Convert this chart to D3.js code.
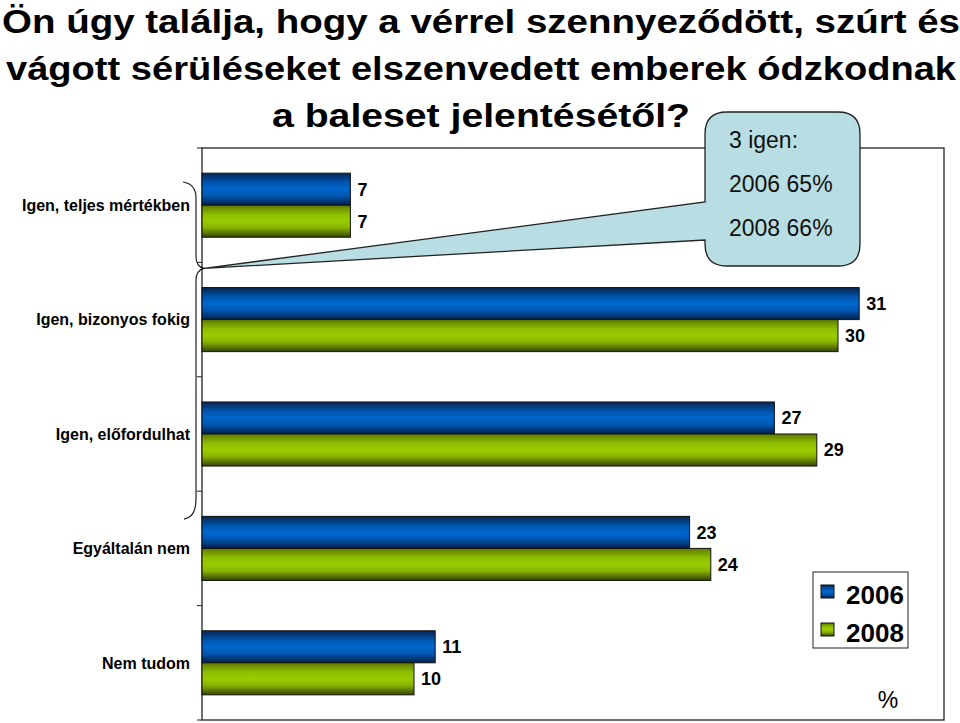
<!DOCTYPE html>
<html><head><meta charset="utf-8">
<script src="https://cdn.jsdelivr.net/npm/d3@7"></script>
<style>body{margin:0;background:#fff}svg{display:block;font-family:"Liberation Sans",Arial,sans-serif}</style>
</head><body><svg id="c" width="960" height="723"></svg>
<script>
const titleLines = ["Ön úgy találja, hogy a vérrel szennyeződött, szúrt és","vágott sérüléseket elszenvedett emberek ódzkodnak","a baleset jelentésétől?"];
const categories = ["Igen, teljes mértékben","Igen, bizonyos fokig","Igen, előfordulhat","Egyáltalán nem","Nem tudom"];
const series = ["2006","2008"];
const values2006 = [7,31,27,23,11];
const values2008 = [7,30,29,24,10];
const calloutLines = ["3 igen:","2006 65%","2008 66%"];
const unitLabel = "%";

(function(){
const svg = d3.select("#c");
const defs = svg.append("defs");
function grad(id, stops){
  const g = defs.append("linearGradient").attr("id",id).attr("x1",0).attr("y1",0).attr("x2",0).attr("y2",1);
  stops.forEach(s=>g.append("stop").attr("offset",s[0]).attr("stop-color",s[1]));
}
grad("gBlue",[[0,"#0a2550"],[0.3,"#0056b0"],[0.5,"#0066cc"],[0.7,"#0058b4"],[1,"#02204a"]]);
grad("gGreen",[[0,"#5f7a00"],[0.3,"#8fbf00"],[0.5,"#99cc00"],[0.7,"#88b400"],[1,"#354400"]]);
const fills = {"2006":"url(#gBlue)","2008":"url(#gGreen)"};

const titleW = [958, 950, 418];
svg.append("g").selectAll("text").data(titleLines).join("text")
  .attr("x",481).attr("y",(d,i)=>33+i*47).attr("text-anchor","middle")
  .attr("textLength",(d,i)=>titleW[i]).attr("lengthAdjust","spacingAndGlyphs")
  .attr("font-weight","bold").attr("font-size",34).attr("fill","#000").text(d=>d);

const pL=202, pR=944, pT=148, pB=720;
const x = d3.scaleLinear().domain([0,35]).range([pL,pR]);
const y0 = d3.scaleBand().domain(categories).range([pT,pB]);
const y1 = d3.scaleBand().domain(series).range([y0.bandwidth()*0.22, y0.bandwidth()*0.78]);

svg.append("rect").attr("x",pL).attr("y",pT).attr("width",pR-pL).attr("height",pB-pT)
  .attr("fill","none").attr("stroke","#222").attr("stroke-width",1.3);

const bounds = categories.map(c=>y0(c)).concat([pB]);
svg.append("g").selectAll("line").data(bounds).join("line")
  .attr("x1",pL-5).attr("x2",pL).attr("y1",d=>d).attr("y2",d=>d).attr("stroke","#222");

const data = categories.map((c,i)=>({cat:c, vals:[{s:"2006",v:values2006[i]},{s:"2008",v:values2008[i]}]}));
const groups = svg.append("g").selectAll("g").data(data).join("g")
  .attr("transform",d=>`translate(0,${y0(d.cat)})`);
groups.selectAll("rect").data(d=>d.vals).join("rect")
  .attr("x",pL).attr("y",d=>y1(d.s)).attr("width",d=>x(d.v)-pL).attr("height",y1.bandwidth())
  .attr("fill",d=>fills[d.s]).attr("stroke","#111").attr("stroke-width",1);
groups.selectAll("text").data(d=>d.vals).join("text")
  .attr("x",d=>x(d.v)+7).attr("y",d=>y1(d.s)+y1.bandwidth()/2).attr("dy","0.36em")
  .attr("font-weight","bold").attr("font-size",18).text(d=>d.v);

svg.append("g").selectAll("text").data(categories).join("text")
  .attr("x",190).attr("y",d=>y0(d)+y0.bandwidth()/2).attr("dy","0.36em").attr("text-anchor","end")
  .attr("font-weight","bold").attr("font-size",16).text(d=>d);

const bt = y0(categories[0])+34, bm = y0(categories[1])+6, bb = y0(categories[3])+28;
svg.append("path").attr("fill","none").attr("stroke","#222").attr("stroke-width",1.2)
  .attr("d",`M183,${bt} Q196,${bt+2} 196,${bt+16} L196,${bm-12} Q196,${bm-2} 204,${bm} Q196,${bm+2} 196,${bm+12} L196,${bb-20} Q196,${bb-2} 184,${bb}`);

const bx=705, byT=112, bw=155, bh=154, r=22;
const tipX=204, tipY=bm, ta=202, tb=240;
svg.append("path").attr("fill","#b8dde2").attr("stroke","#222").attr("stroke-width",1.3)
  .attr("d",`M${bx+r},${byT} L${bx+bw-r},${byT} Q${bx+bw},${byT} ${bx+bw},${byT+r} L${bx+bw},${byT+bh-r} Q${bx+bw},${byT+bh} ${bx+bw-r},${byT+bh} L${bx+r},${byT+bh} Q${bx},${byT+bh} ${bx},${byT+bh-r} L${bx},${tb} L${tipX},${tipY} L${bx},${ta} L${bx},${byT+r} Q${bx},${byT} ${bx+r},${byT} Z`);
svg.append("g").selectAll("text").data(calloutLines).join("text")
  .attr("x",729).attr("y",(d,i)=>148+i*44).attr("font-size",23).attr("fill","#111").text(d=>d);

const lg = svg.append("g");
lg.append("rect").attr("x",813).attr("y",572).attr("width",95).attr("height",76).attr("fill","#fff").attr("stroke","#222");
series.forEach((s,i)=>{
  lg.append("rect").attr("x",821).attr("y",585+i*38).attr("width",13).attr("height",13).attr("fill",fills[s]).attr("stroke","#111");
  lg.append("text").attr("x",846).attr("y",604+i*38).attr("font-weight","bold").attr("font-size",26).text(s);
});
svg.append("text").attr("x",888).attr("y",708).attr("text-anchor","middle").attr("font-size",23).text(unitLabel);
})();
</script></body></html>
